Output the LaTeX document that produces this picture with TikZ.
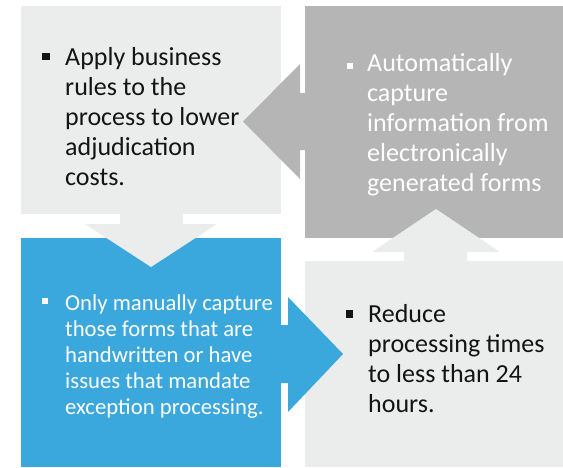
\documentclass[tikz,border=0pt]{standalone}
\usepackage{fontspec}
\setmainfont{Carlito}
\usetikzlibrary{positioning}
\definecolor{boxlight}{RGB}{235,236,236}
\definecolor{boxgray}{RGB}{180,181,180}
\definecolor{boxblue}{RGB}{58,167,221}
\definecolor{inkdark}{RGB}{20,20,20}
\tikzset{
    cell/.style={rectangle,inner sep=0pt,outer sep=0pt,anchor=north west},
    sq/.style={rectangle,inner sep=0pt,minimum size=7.5pt},
    itemtext/.style={align=left,inner sep=0pt,anchor=north west,font=\fontsize{26}{30}\selectfont,execute at begin node=\strut},
    smalltext/.style={itemtext,font=\fontsize{22.7}{26}\selectfont},
}

\begin{document}
\begin{tikzpicture}[x=1pt,y=-1pt]
    \useasboundingbox (0,0) rectangle (563,467);
    % the four cells
    \node[cell,fill=boxlight,minimum width=260pt,minimum height=208pt] (tl) at (21,6) {};
    \node[cell,fill=boxgray,minimum width=258pt,minimum height=232pt] (tr) at (305,6) {};
    \node[cell,fill=boxblue,minimum width=260pt,minimum height=229pt] (bl) at (21,238) {};
    \node[cell,fill=boxlight,minimum width=258pt,minimum height=206pt] (br) at (305,261) {};

    % block arrows
    \fill[boxlight] (120,213) -- (183,213) -- (183,224) -- (217,224) -- (151,267) -- (85,224) -- (120,224) -- cycle;
    \fill[boxgray] (306,93) -- (300,93) -- (300,64) -- (243,121.5) -- (300,179) -- (300,150) -- (306,150) -- cycle;
    \fill[boxblue] (280,325) -- (288,325) -- (288,297) -- (343,354) -- (288,412) -- (288,383) -- (280,383) -- cycle;
    \fill[boxlight] (404,262) -- (404,252) -- (372,252) -- (436,209) -- (500,252) -- (467,252) -- (467,262) -- cycle;

    % texts
    \node[sq,fill=inkdark] (tlsq) at (46,56.5) {};
    \node[itemtext,text=inkdark] (tltext) at (65,47.5) {Apply business\\rules to the\\process to lower\\adjudication\\costs.};
    \node[sq,fill=white,minimum size=6pt] (trsq) at (349.5,66) {};
    \node[itemtext,text=white] (trtext) at (367,53.5) {Automatically\\capture\\information from\\electronically\\generated forms};
    \node[sq,fill=white,minimum size=6pt] (blsq) at (45,301) {};
    \node[smalltext,text=white] (bltext) at (65,294.8) {Only manually capture\\those forms that are\\handwritten or have\\issues that mandate\\exception processing.};
    \node[sq,fill=inkdark] (brsq) at (349.5,314) {};
    \node[itemtext,text=inkdark] (brtext) at (368,304.5) {Reduce\\processing times\\to less than 24\\hours.};
\end{tikzpicture}
\end{document}
